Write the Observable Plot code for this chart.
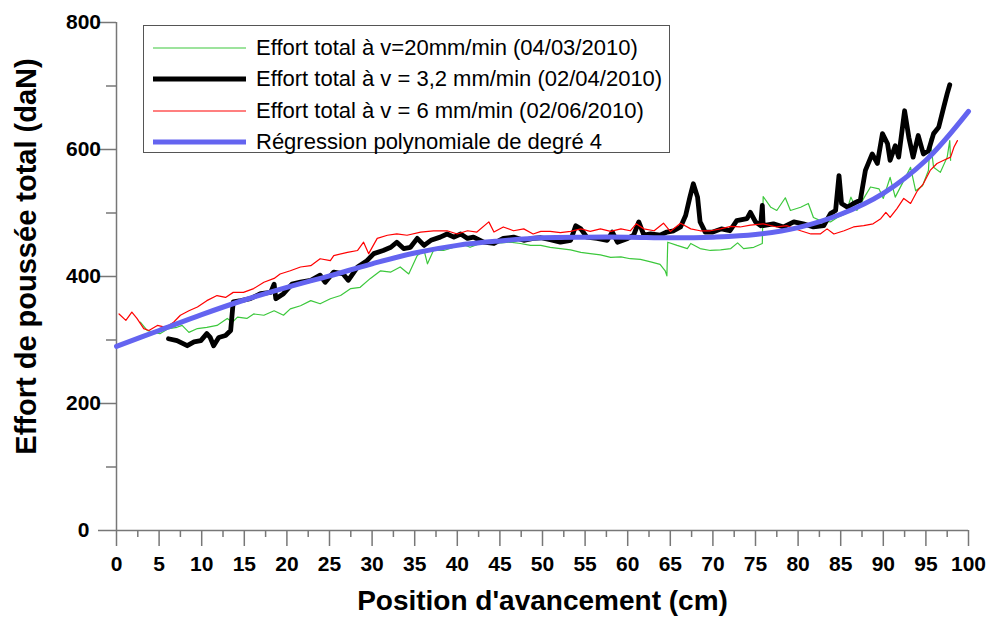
<!DOCTYPE html>
<html>
<head>
<meta charset="utf-8">
<script src="https://cdn.jsdelivr.net/npm/d3@7"></script>
<script src="https://cdn.jsdelivr.net/npm/@observablehq/plot@0.6"></script>
<style>
  html, body { margin: 0; padding: 0; background: white; }
  #wrap { position: relative; width: 990px; height: 619px; font-family: "Liberation Sans", Arial, sans-serif; }
  #legend { position: absolute; left: 143px; top: 25px; width: 525px; height: 126px; border: 1.5px solid #555; background: white; }
  .row { position: absolute; left: 0; height: 30px; display: flex; align-items: center; }
  .row svg { margin-left: 9px; }
  .row span { margin-left: 10px; font-size: 22px; color: #000; white-space: nowrap; }
</style>
</head>
<body>
<div id="wrap"></div>
<script>
// ---- data ----
const xTicks = [0,5,10,15,20,25,30,35,40,45,50,55,60,65,70,75,80,85,90,95,100];
const yTicks = [0,200,400,600,800];

const series20 = [ // Effort total à v=20mm/min (04/03/2010)
[2.8,328],[3.6,315],[4.4,312],[5.1,310],[6.1,318],[7.1,320],[7.7,323],[8.5,312],[9.5,318],[10.6,320],
[11.8,323],[13.0,334],[13.6,328],[14.2,336],[15.3,334],[16.1,341],[17.3,339],[18.5,346],[19.6,339],[20.4,349],
[21.6,354],[22.8,362],[23.9,357],[25.1,365],[26.3,370],[27.5,381],[28.6,383],[29.8,397],[31.0,409],[32.2,407],
[33.3,415],[34.3,404],[35.3,433],[36.1,441],[36.5,420],[37.2,441],[38.4,441],[39.6,446],[40.4,452],[41.5,446],
[42.7,452],[43.9,454],[45.1,453],[46.2,454],[47.4,452],[48.6,449],[49.8,449],[50.9,446],[52.1,444],[53.3,442],
[54.5,438],[55.6,436],[56.8,434],[58.0,430],[59.2,431],[60.3,428],[61.5,427],[62.7,423],[63.8,419],[64.4,409],
[64.6,401],[64.7,454],[65.8,449],[67.0,444],[67.4,452],[68.5,444],[69.7,441],[70.9,442],[72.1,444],[72.9,453],
[73.6,444],[74.8,446],[75.8,452],[75.9,526],[76.8,509],[77.5,504],[78.5,524],[79.1,504],[80.3,509],[81.2,515],
[81.8,493],[82.6,488],[83.8,486],[84.6,493],[85.6,499],[86.2,525],[86.9,504],[87.7,523],[88.5,541],[89.5,538],
[90.0,523],[90.8,556],[91.4,525],[92.4,551],[93.2,572],[93.8,535],[94.6,543],[95.3,567],[95.5,617],[95.9,572],
[96.7,564],[97.5,588],[97.8,614],[97.9,583]
];

const series32 = [ // Effort total à v = 3,2 mm/min (02/04/2010)
[6.1,302],[7.1,299],[8.3,291],[9.1,297],[9.9,299],[10.6,310],[11.0,304],[11.4,291],[12.0,304],[12.8,307],
[13.4,315],[13.7,360],[14.6,362],[15.7,365],[16.9,373],[18.1,375],[18.5,388],[18.7,365],[19.6,373],[20.6,388],
[21.6,391],[22.8,394],[23.9,402],[24.5,391],[25.5,407],[26.6,404],[27.2,394],[28.3,415],[29.4,425],[30.2,436],
[31.3,441],[32.2,446],[32.9,454],[33.7,444],[34.5,446],[35.3,460],[36.1,449],[36.9,457],[38.0,462],[38.8,467],
[39.6,462],[40.4,467],[41.2,460],[41.9,462],[43.1,454],[44.3,452],[45.4,460],[46.6,462],[47.8,457],[48.9,460],
[49.8,461],[50.9,458],[52.1,454],[53.3,457],[53.9,480],[54.5,475],[55.2,462],[56.4,460],[57.6,457],[58.2,470],
[58.8,454],[60.0,460],[60.7,465],[61.3,486],[61.9,465],[62.7,467],[63.8,465],[64.6,470],[65.4,472],[66.2,478],
[66.8,496],[67.3,525],[67.7,546],[68.2,525],[68.5,486],[69.1,470],[70.0,470],[71.0,475],[72.0,472],[72.8,488],
[74.0,491],[74.4,501],[75.0,486],[75.6,480],[75.8,512],[75.9,480],[77.1,483],[78.3,478],[79.5,486],[80.6,483],
[81.8,478],[83.0,480],[83.8,499],[84.4,504],[84.8,559],[85.1,515],[85.8,509],[86.5,515],[87.3,520],[87.9,567],
[88.7,593],[89.3,578],[89.9,625],[90.5,609],[90.8,583],[91.4,606],[91.8,588],[92.5,661],[93.0,619],[93.5,588],
[94.1,622],[94.7,593],[95.3,598],[95.9,625],[96.5,635],[97.1,667],[97.5,688],[97.8,702]
];

const series6 = [ // Effort total à v = 6 mm/min (02/06/2010)
[0.3,341],[1.1,331],[1.8,344],[2.4,334],[3.2,318],[3.8,315],[4.8,323],[5.8,320],[6.7,328],[7.5,339],
[8.5,346],[9.5,352],[10.6,362],[11.8,370],[12.8,367],[13.7,375],[14.9,375],[16.1,381],[17.3,391],[18.5,397],
[19.2,404],[20.4,409],[21.6,415],[22.8,417],[23.9,428],[25.1,425],[25.5,433],[27.1,438],[28.3,441],[29.0,454],
[29.6,436],[30.6,460],[31.8,465],[32.9,467],[34.1,465],[35.7,470],[37.2,472],[38.8,472],[40.0,467],[41.2,472],
[42.3,470],[43.7,486],[44.3,470],[45.4,478],[46.6,472],[47.8,475],[48.9,467],[49.8,471],[50.9,471],[52.1,469],
[53.3,471],[54.5,475],[55.6,471],[56.8,475],[58.0,471],[59.2,475],[60.3,472],[61.0,483],[61.9,475],[63.1,472],
[64.2,484],[65.0,471],[66.2,484],[67.4,475],[68.5,472],[69.7,472],[70.9,475],[72.1,479],[73.2,478],[74.4,481],
[75.9,483],[77.5,478],[78.7,480],[80.3,472],[81.5,467],[82.6,467],[83.4,475],[84.2,467],[85.4,472],[86.5,478],
[87.7,480],[88.8,483],[89.7,491],[90.3,501],[90.8,493],[91.6,507],[92.4,523],[93.2,515],[94.0,535],[94.7,546],
[95.5,567],[96.3,578],[97.1,583],[97.9,588],[98.3,604],[98.7,614]
];

const regression = [ // Régression polynomiale de degré 4
[0,290],[5,315],[10,340],[15,363],[20,383],[25,401],[30,420],[35,437],[40,449],[45,456],[50,461],
[55,462],[60,462],[65,461],[70,462],[75,466],[80,477],[85,498],[90,531],[95,583],[100,660]
];

const legendItems = [
  {label: "Effort total à v=20mm/min (04/03/2010)", color: "#3cc83c", width: 1.2},
  {label: "Effort total à v = 3,2 mm/min (02/04/2010)", color: "#000000", width: 4.8},
  {label: "Effort total à v = 6 mm/min (02/06/2010)", color: "#ff0000", width: 1.2},
  {label: "Régression polynomiale de degré 4", color: "#6464f0", width: 5}
];

const xTitle = "Position d'avancement (cm)";
const yTitle = "Effort de poussée total (daN)";

// ---- chart ----
const axisColor = "#777";
const chart = Plot.plot({
  width: 990,
  height: 619,
  marginLeft: 116,
  marginRight: 22,
  marginTop: 22,
  marginBottom: 89,
  x: {domain: [0, 100]},
  y: {domain: [0, 800]},
  style: {fontFamily: "'Liberation Sans', Arial, sans-serif", background: "white", overflow: "visible"},
  marks: [
    Plot.axisX({ticks: d3.range(2.5, 100, 5), tickSize: 7, tickFormat: () => "", stroke: axisColor, strokeWidth: 1.5, label: null}),
    Plot.axisX({ticks: xTicks, tickSize: 16, tickPadding: 10, fontSize: 21, fontWeight: "bold", stroke: axisColor, strokeWidth: 1.5, fill: "black", label: null}),
    Plot.axisY({ticks: [100, 300, 500, 700], tickSize: 10, tickFormat: () => "", stroke: axisColor, strokeWidth: 1.5, label: null}),
    Plot.axisY({ticks: yTicks, tickSize: 18, tickPadding: 15, textAnchor: "middle", fontSize: 21, fontWeight: "bold", stroke: axisColor, strokeWidth: 1.5, fill: "black", label: null}),
    Plot.ruleY([0], {stroke: axisColor, strokeWidth: 1.5}),
    Plot.ruleX([0], {stroke: axisColor, strokeWidth: 1.5}),
    Plot.line(series20, {x: d => d[0], y: d => d[1], stroke: legendItems[0].color, strokeWidth: legendItems[0].width}),
    Plot.line(series32, {x: d => d[0], y: d => d[1], stroke: legendItems[1].color, strokeWidth: legendItems[1].width, strokeLinejoin: "round", strokeLinecap: "round"}),
    Plot.line(series6, {x: d => d[0], y: d => d[1], stroke: legendItems[2].color, strokeWidth: legendItems[2].width}),
    Plot.line(regression, {x: d => d[0], y: d => d[1], curve: "catmull-rom", stroke: legendItems[3].color, strokeWidth: legendItems[3].width}),
    Plot.text([xTitle], {frameAnchor: "bottom", dy: 79, fontSize: 28, fontWeight: "bold", textAnchor: "middle", fill: "black"}),
    Plot.text([yTitle], {frameAnchor: "left", dx: -90, dy: -20, rotate: -90, fontSize: 29, fontWeight: "bold", textAnchor: "middle", fill: "black"})
  ]
});

const wrap = document.getElementById("wrap");
wrap.appendChild(chart);

// legend overlay inside the plot area
const legend = document.createElement("div");
legend.id = "legend";
legendItems.forEach((it, i) => {
  const row = document.createElement("div");
  row.className = "row";
  row.style.top = (7 + i * 31.3) + "px";
  row.innerHTML = `<svg width="93" height="10"><line x1="0" x2="93" y1="5" y2="5" stroke="${it.color}" stroke-width="${it.width}"/></svg><span>${it.label}</span>`;
  legend.appendChild(row);
});
wrap.appendChild(legend);
</script>
</body>
</html>
